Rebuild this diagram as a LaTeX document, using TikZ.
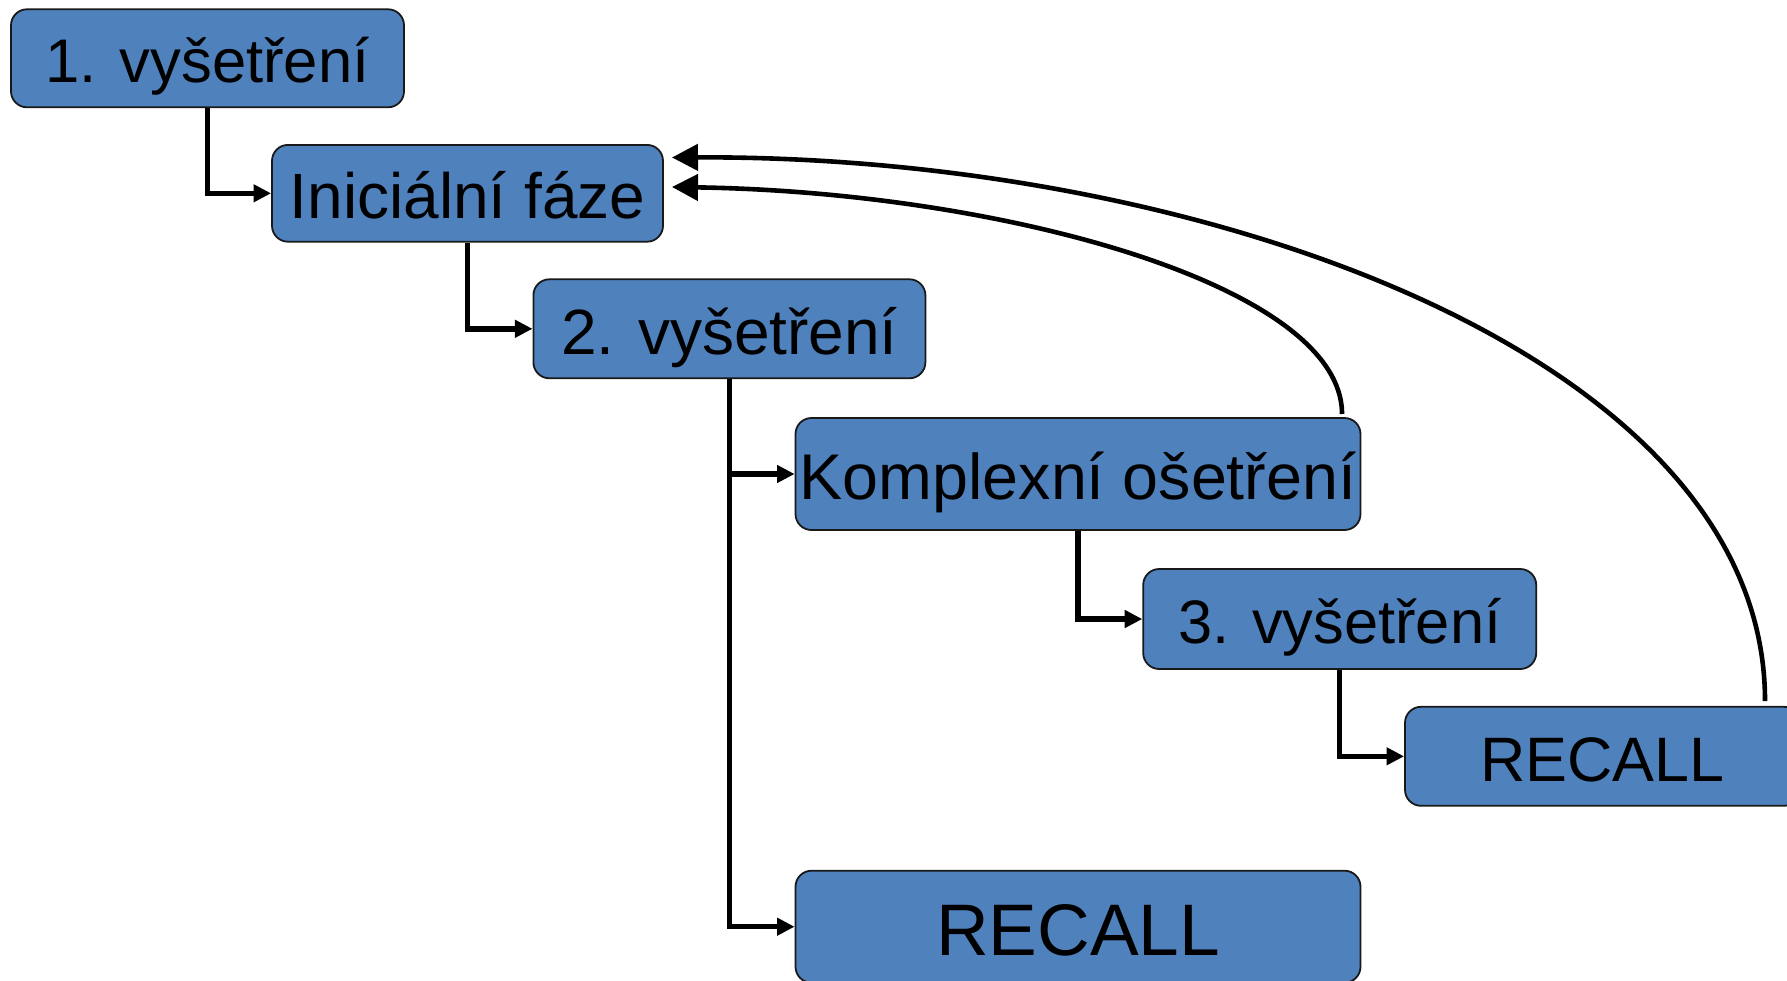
\documentclass[tikz,border=0pt]{standalone}
\usepackage{fontspec}
\setmainfont{Liberation Sans}
\usetikzlibrary{arrows.meta}
\definecolor{boxblue}{RGB}{79,129,189}
\begin{document}
\begin{tikzpicture}[x=0.5pt,y=-0.5pt,
  box/.style={draw=black!90, line width=0.9pt, fill=boxblue, rounded corners=8pt,
    inner sep=0pt, text depth=0pt},
  link/.style={line width=2.7pt, -{Triangle[length=8.8pt,width=8.5pt]}},
  back/.style={line width=2.3pt, -{Triangle[length=13pt,width=13pt]}}]
\useasboundingbox (0,0) rectangle (1787,980);
\node[box, minimum width=196.5pt, minimum height=49pt, text height=24.5pt,
  font=\fontsize{30.8}{36}\selectfont] (b1) at (207.5,58.3) {1. vyšetření};
\node[box, minimum width=195.5pt, minimum height=48.4pt, text height=25.4pt,
  font=\fontsize{32}{36}\selectfont] (b2) at (467.5,193.3) {Iniciální fáze};
\node[box, minimum width=196pt, minimum height=49.5pt, text height=25.4pt,
  font=\fontsize{32}{36}\selectfont] (b3) at (729.4,328.8) {2. vyšetření};
\node[box, minimum width=282.5pt, minimum height=56pt, text height=25.6pt,
  font=\fontsize{32.3}{36}\selectfont] (b4) at (1078,474) {Komplexní ošetření};
\node[box, minimum width=196.5pt, minimum height=50pt, text height=24.4pt,
  font=\fontsize{30.7}{36}\selectfont] (b5) at (1339.7,619) {3. vyšetření};
\node[box, minimum width=197.5pt, minimum height=49.5pt, text height=24.9pt,
  font=\fontsize{31.4}{36}\selectfont] (b6) at (1602.5,756.3) {RECALL};
\node[box, minimum width=282.5pt, minimum height=56pt, text height=29pt,
  font=\fontsize{36.5}{40}\selectfont] (b7) at (1078,926.7) {RECALL};
\draw[link] (b1.south) |- (b2.west);
\draw[link] (b2.south) |- (b3.west);
\draw[link] (b3.south) |- (b4.west);
\draw[link] (b3.south) |- (b7.west);
\draw[link] (b4.south) |- (b5.west);
\draw[link] (b5.south) |- (b6.west);
\coordinate (sA) at (1342,414);
\coordinate (tA) at (672,187);
\coordinate (sB) at (1765,701);
\coordinate (tB) at (672,157.5);
\draw[back] (sA) .. controls (1342,285) and (1000,192) .. (tA);
\draw[back] (sB) .. controls (1765,355) and (1200,155) .. (tB);
\end{tikzpicture}
\end{document}
